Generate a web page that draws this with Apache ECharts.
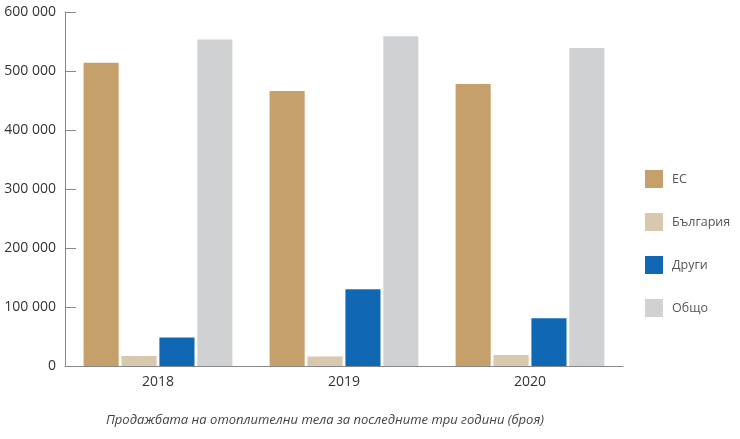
<!DOCTYPE html>
<html>
<head>
<meta charset="utf-8">
<script src="https://cdn.jsdelivr.net/npm/echarts@6/dist/echarts.min.js"></script>
<style>
html,body{margin:0;padding:0;background:#fff;}
#chart{width:740px;height:439px;}
</style>
</head>
<body>
<div id="chart"></div>
<script>
var categories = ['2018', '2019', '2020'];
var seriesNames = ['ЕС', 'България', 'Други', 'Общо'];
var valuesEU = [514000, 466000, 478000];
var valuesBG = [17000, 16000, 18500];
var valuesOther = [48500, 130000, 81000];
var valuesTotal = [553500, 559000, 539000];
var yTicks = [0, 100000, 200000, 300000, 400000, 500000, 600000];
var colors = ['#C5A06A', '#D8C9AE', '#1068B5', '#D0D1D3'];
var caption = 'Продажбата на отоплителни тела за последните три години (броя)';

function fmt(v) {
  return String(v).replace(/\B(?=(\d{3})+(?!\d))/g, ' ');
}

var chart = echarts.init(document.getElementById('chart'));
var data = [valuesEU, valuesBG, valuesOther, valuesTotal];
chart.setOption({
  animation: false,
  textStyle: { fontFamily: 'Open Sans' },
  grid: { left: 65, right: 117, top: 12, bottom: 73 },
  title: {
    text: caption,
    left: 101, top: 409,
    textStyle: { fontSize: 13, fontStyle: 'italic', fontWeight: 'normal', color: '#444', fontFamily: 'Open Sans' }
  },
  legend: {
    orient: 'vertical',
    left: 640, top: 165,
    itemWidth: 18, itemHeight: 18, itemGap: 25,
    icon: 'rect',
    textStyle: { fontSize: 12.5, color: '#555', padding: [0, 0, 0, 4] },
    data: seriesNames
  },
  xAxis: {
    type: 'category',
    data: categories,
    axisLine: { lineStyle: { color: '#888', width: 1 } },
    axisTick: { inside: true, length: 10, lineStyle: { color: '#888' } },
    axisLabel: { fontSize: 14, color: '#333', margin: 9 }
  },
  yAxis: {
    type: 'value',
    min: yTicks[0], max: yTicks[yTicks.length - 1], interval: 100000,
    axisLine: { show: true, lineStyle: { color: '#888', width: 1 } },
    axisTick: { show: true, inside: true, length: 11, lineStyle: { color: '#888' } },
    splitLine: { show: false },
    axisLabel: { fontSize: 14, color: '#333', margin: 9, formatter: fmt }
  },
  series: seriesNames.map(function (n, i) {
    return {
      name: n, type: 'bar', data: data[i],
      itemStyle: { color: colors[i] },
      barCategoryGap: '20%', barGap: '8%'
    };
  })
});
</script>
</body>
</html>
